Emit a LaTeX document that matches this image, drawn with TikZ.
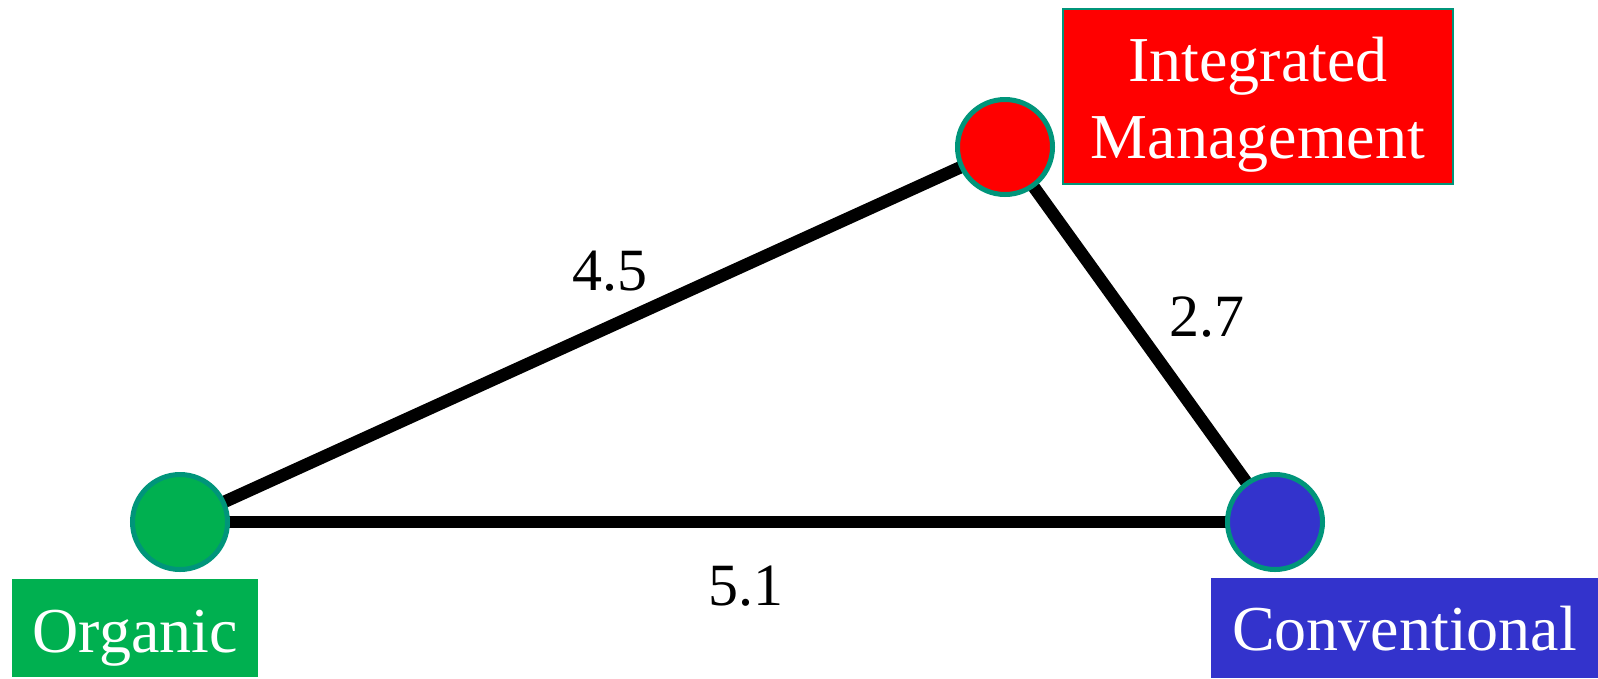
\documentclass[tikz,border=0pt]{standalone}
\usepackage{fontspec}
\setmainfont{Liberation Serif}
\definecolor{orggreen}{HTML}{00B050}
\definecolor{intred}{HTML}{FF0000}
\definecolor{convblue}{HTML}{3333CC}
\definecolor{rimteal}{HTML}{00957A}
\tikzset{
  dot/.style={circle, draw=rimteal, line width=5pt, minimum size=95pt, inner sep=0pt},
  labelbox/.style={rectangle, inner sep=0pt, text=white, align=center,
     font=\fontsize{64}{77}\selectfont},
  link/.style={line width=12.5pt, black},
  dist/.style={anchor=base, font=\fontsize{60}{70}\selectfont, inner sep=0pt}
}
\begin{document}
\begin{tikzpicture}[x=1pt, y=-1pt]
\useasboundingbox (0,0) rectangle (1598,678);
\coordinate (po) at (180,522);
\coordinate (pi) at (1005,147);
\coordinate (pc) at (1275,522);
\draw[link] (po) -- (pi);
\draw[link] (pi) -- (pc);
\draw[link] (po) -- (pc);
\node[dot, fill=orggreen] (org) at (po) {};
\node[dot, fill=intred] (int) at (pi) {};
\node[dot, fill=convblue] (conv) at (pc) {};
\node[labelbox, fill=orggreen, anchor=north west, text width=246pt, text height=73pt, text depth=25pt] (orgl) at (12,579) {Organic};
\node[labelbox, fill=intred, draw=rimteal, line width=2pt, anchor=north west, text width=390pt, text height=72pt, text depth=103pt] (intl) at (1062,8) {Integrated\\Management};
\node[labelbox, fill=convblue, anchor=north west, text width=387pt, text height=72pt, text depth=28pt] (convl) at (1211,578) {Conventional};
\node[dist] (d45) at (610,290) {4.5};
\node[dist] (d27) at (1207,336) {2.7};
\node[dist] (d51) at (746,605) {5.1};
\end{tikzpicture}
\end{document}
